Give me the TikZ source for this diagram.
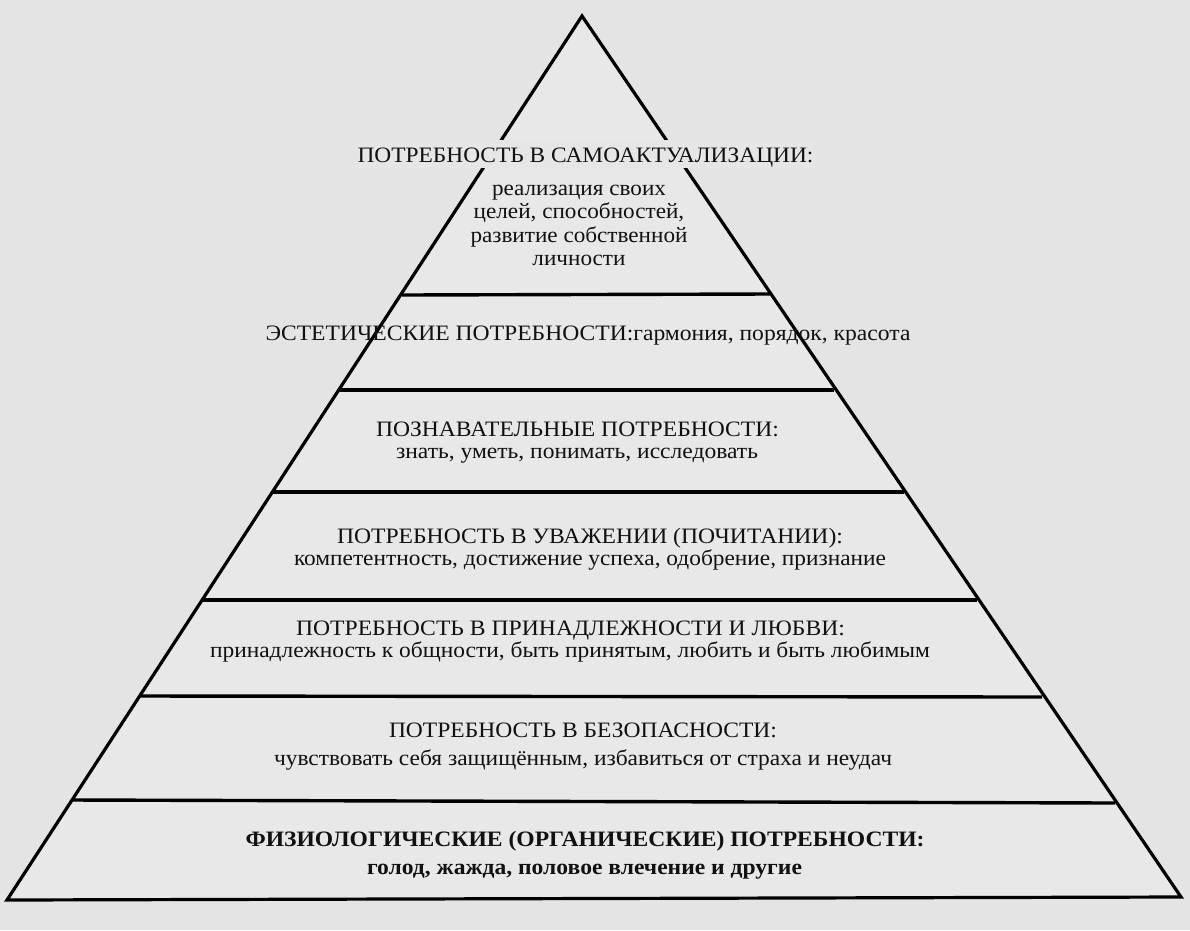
\documentclass[tikz,border=0pt]{standalone}
\usepackage{fontspec}
\usepackage{graphicx}
\setmainfont{Liberation Serif}
\usetikzlibrary{calc}
\definecolor{bg}{HTML}{E4E4E4}
\definecolor{pyr}{HTML}{E8E8E8}
\definecolor{knock}{HTML}{E6E6E6}
\definecolor{ink}{HTML}{111111}
\newlength\fitlen
\newcommand\fitto[2]{\settowidth\fitlen{#2}\scalebox{\fpeval{#1/\fitlen}}[1]{#2}}
\newcommand\blk[1]{\settowidth\fitlen{развитие собственной}\scalebox{\fpeval{217pt/\fitlen}}[1]{#1}}
\begin{document}
\begin{tikzpicture}[x=1pt,y=-1pt,
  txt/.style={font=\fontsize{22}{24}\selectfont, anchor=base, inner sep=0pt, text=ink},
  btxt/.style={txt, font=\fontsize{22}{24}\selectfont\bfseries},
  tier/.style={draw=black, line width=3.4pt, line cap=butt}]
\useasboundingbox (0,0) rectangle (1190,930);
\fill[bg] (0,0) rectangle (1190,930);
% pyramid outline
\coordinate (apex) at (582,16);
\coordinate (bl) at (7,900);
\coordinate (br) at (1181,897);
\filldraw[fill=pyr, draw=black, line width=3.2pt, line join=miter] (apex) -- (bl) -- (br) -- cycle;
% tier lines
\coordinate (l1) at (402,295); \coordinate (r1) at (770,294);
\coordinate (l2) at (340,390); \coordinate (r2) at (834,390);
\coordinate (l3) at (273,492); \coordinate (r3) at (904,492);
\coordinate (l4) at (202,600); \coordinate (r4) at (977,600);
\coordinate (l5) at (139,696); \coordinate (r5) at (1042,697);
\coordinate (l6) at (72,800);  \coordinate (r6) at (1115,803);
\foreach \i in {1,...,6} {\draw[tier] (l\i) -- (r\i);}
% texts
\node[txt, fill=knock, inner xsep=0pt, text height=23pt, text depth=5pt] (t1) at (585.5,162.5) {\fitto{456pt}{ПОТРЕБНОСТЬ В САМОАКТУАЛИЗАЦИИ:}};
\node[txt] (t1a) at (579,195.5) {\blk{реализация своих}};
\node[txt] (t1b) at (579,218.5) {\blk{целей, способностей,}};
\node[txt] (t1c) at (579,242.5) {\blk{развитие собственной}};
\node[txt] (t1d) at (579,265.5) {\blk{личности}};
\node[txt] (t2) at (588,340.5) {\fitto{645pt}{ЭСТЕТИЧЕСКИЕ ПОТРЕБНОСТИ:гармония, порядок, красота}};
\node[txt] (t3) at (577.5,436.5) {\fitto{403pt}{ПОЗНАВАТЕЛЬНЫЕ ПОТРЕБНОСТИ:}};
\node[txt] (t3a) at (577,458.5) {\fitto{362pt}{знать, уметь, понимать, исследовать}};
\node[txt] (t4) at (590,543.5) {\fitto{506pt}{ПОТРЕБНОСТЬ В УВАЖЕНИИ (ПОЧИТАНИИ):}};
\node[txt] (t4a) at (590,565.5) {\fitto{592pt}{компетентность, достижение успеха, одобрение, признание}};
\node[txt] (t5) at (570.5,635.5) {\fitto{549pt}{ПОТРЕБНОСТЬ В ПРИНАДЛЕЖНОСТИ И ЛЮБВИ:}};
\node[txt] (t5a) at (570,657.5) {\fitto{720pt}{принадлежность к общности, быть принятым, любить и быть любимым}};
\node[txt] (t6) at (583,737) {\fitto{388pt}{ПОТРЕБНОСТЬ В БЕЗОПАСНОСТИ:}};
\node[txt] (t6a) at (583,765) {\fitto{618pt}{чувствовать себя защищённым, избавиться от страха и неудач}};
\node[btxt] (t7) at (585,846) {\fitto{679pt}{ФИЗИОЛОГИЧЕСКИЕ (ОРГАНИЧЕСКИЕ) ПОТРЕБНОСТИ:}};
\node[btxt] (t7a) at (584.5,874.5) {\fitto{435pt}{голод, жажда, половое влечение и другие}};
\end{tikzpicture}
\end{document}
